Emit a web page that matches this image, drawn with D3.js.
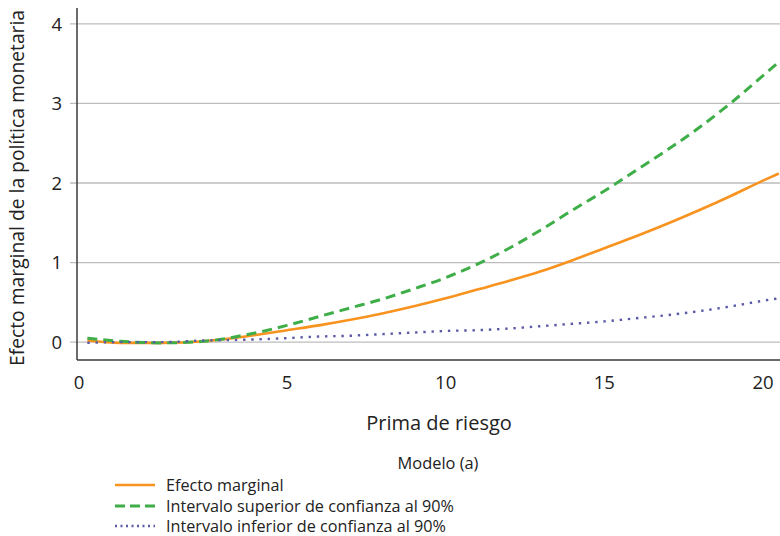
<!DOCTYPE html>
<html>
<head>
<meta charset="utf-8">
<script src="https://cdn.jsdelivr.net/npm/d3@7"></script>
<style>
  body { margin: 0; background: #fff; }
  text { font-family: "Open Sans", Lato, sans-serif; fill: #222; }
</style>
</head>
<body>
<div id="chart"></div>
<script>
// prima de riesgo (eje x)
const prima = [0.2, 1, 2, 3, 4, 5, 6, 7, 8, 9, 10, 11, 12, 13, 14, 15, 16, 17, 18, 19, 20, 20.5];
const efecto = [0.02, -0.01, -0.01, 0.01, 0.07, 0.15, 0.21, 0.28, 0.36, 0.45, 0.55, 0.66, 0.77, 0.89, 1.03, 1.18, 1.33, 1.49, 1.66, 1.84, 2.03, 2.12];
const superior = [0.05, 0.01, -0.01, 0.01, 0.09, 0.21, 0.32, 0.43, 0.54, 0.67, 0.81, 0.98, 1.18, 1.41, 1.66, 1.90, 2.16, 2.42, 2.70, 3.01, 3.35, 3.52];
const inferior = [-0.01, 0.0, 0.0, 0.02, 0.03, 0.05, 0.07, 0.08, 0.10, 0.12, 0.14, 0.15, 0.17, 0.20, 0.23, 0.26, 0.30, 0.34, 0.39, 0.45, 0.52, 0.55];
const xTicks = [0, 5, 10, 15, 20];
const yTicks = [0, 1, 2, 3, 4];
const seriesNames = ['Efecto marginal', 'Intervalo superior de confianza al 90%', 'Intervalo inferior de confianza al 90%'];

const W = 780, H = 536;
const svg = d3.select('#chart').append('svg')
    .attr('width', W)
    .attr('height', H);

// the original axis puts 0 a bit off the regular spacing
const x = d3.scaleLinear().domain([0, 5, 20]).range([79, 287, 763]);
const y = d3.scaleLinear().domain([-0.225, 4.2]).range([360, 8]);

// gridlines
svg.selectAll('.grid')
    .data(yTicks)
    .enter().append('line')
    .attr('class', 'grid')
    .attr('x1', 70)
    .attr('x2', 780)
    .attr('y1', d => y(d))
    .attr('y2', d => y(d))
    .attr('stroke', '#bdbdbd')
    .attr('stroke-width', 1.3);

// axes lines
svg.append('line')
    .attr('x1', 77).attr('x2', 77)
    .attr('y1', 8).attr('y2', 360)
    .attr('stroke', '#3a3a3a').attr('stroke-width', 1.5);
svg.append('line')
    .attr('x1', 77).attr('x2', 780)
    .attr('y1', 360).attr('y2', 360)
    .attr('stroke', '#3a3a3a').attr('stroke-width', 1.5);

// tick labels
svg.selectAll('.ylab')
    .data(yTicks)
    .enter().append('text')
    .attr('class', 'ylab')
    .attr('x', 62)
    .attr('y', d => y(d))
    .attr('dy', '0.36em')
    .attr('text-anchor', 'end')
    .style('font-size', '18.5px')
    .text(d => d);

svg.selectAll('.xlab')
    .data(xTicks)
    .enter().append('text')
    .attr('class', 'xlab')
    .attr('x', d => x(d))
    .attr('y', 382)
    .attr('dy', '0.36em')
    .attr('text-anchor', 'middle')
    .style('font-size', '18.5px')
    .text(d => d);

// axis titles
svg.append('text')
    .attr('x', 439)
    .attr('y', 423)
    .attr('dy', '0.36em')
    .attr('text-anchor', 'middle')
    .style('font-size', '20px')
    .text('Prima de riesgo');

svg.append('text')
    .attr('transform', 'translate(17,188) rotate(-90)')
    .attr('dy', '0.36em')
    .attr('text-anchor', 'middle')
    .style('font-size', '19.3px')
    .text('Efecto marginal de la política monetaria');

// series
const styles = [
    { values: efecto, color: '#f7931e', width: 2.6, dash: null, lg: null },
    { values: superior, color: '#3fae49', width: 3, dash: '10,6', lg: '10,5' },
    { values: inferior, color: '#5a5aa6', width: 2.4, dash: '2.4,5.8', lg: '2,3.5' }
];

styles.forEach(s => {
    const line = d3.line()
        .x((d, i) => x(prima[i]))
        .y(d => y(d))
        .curve(d3.curveMonotoneX);
    svg.append('path')
        .datum(s.values)
        .attr('d', line)
        .attr('fill', 'none')
        .attr('stroke', s.color)
        .attr('stroke-width', s.width)
        .attr('stroke-dasharray', s.dash);
});

// legend
svg.append('text')
    .attr('x', 438)
    .attr('y', 463)
    .attr('dy', '0.36em')
    .attr('text-anchor', 'middle')
    .style('font-size', '16.4px')
    .text('Modelo (a)');

const legendY = [485, 506, 526];
styles.forEach((s, i) => {
    svg.append('line')
        .attr('x1', 115).attr('x2', 155)
        .attr('y1', legendY[i]).attr('y2', legendY[i])
        .attr('stroke', s.color)
        .attr('stroke-width', s.width)
        .attr('stroke-dasharray', s.lg);
    svg.append('text')
        .attr('x', 166)
        .attr('y', legendY[i])
        .attr('dy', '0.36em')
        .style('font-size', '16.2px')
        .text(seriesNames[i]);
});
</script>
</body>
</html>
